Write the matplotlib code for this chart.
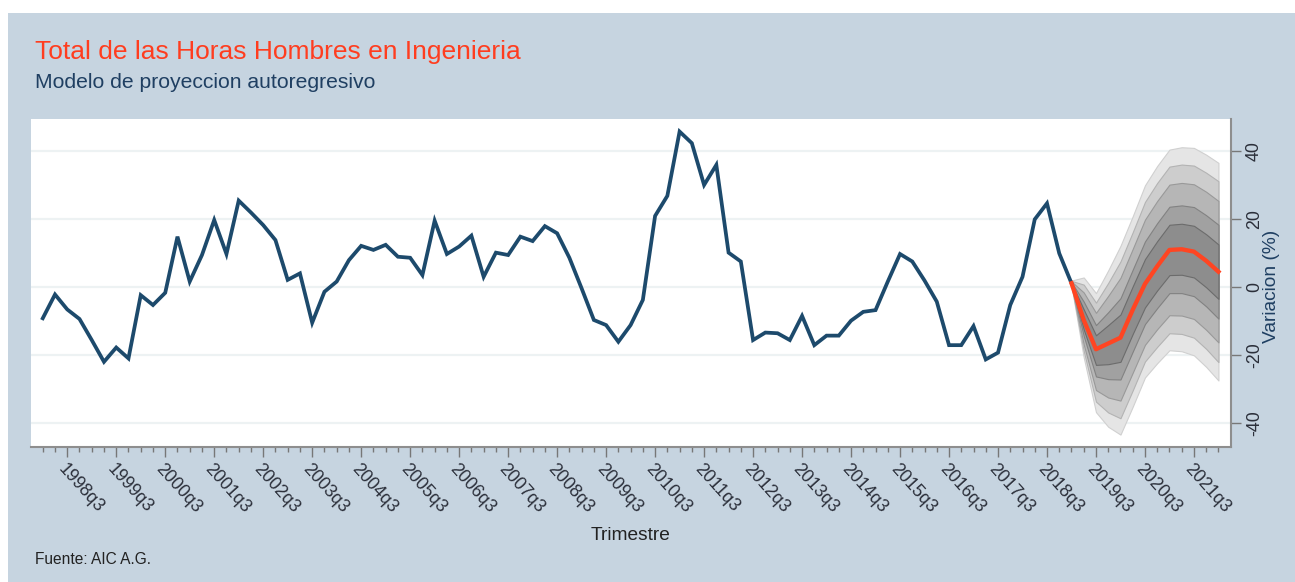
import matplotlib.pyplot as plt
from matplotlib.patches import Rectangle

plt.rcParams['font.family'] = ['Liberation Sans', 'DejaVu Sans']
plt.rcParams['axes.unicode_minus'] = False

# trimestres desde 1998q1 (indice 0) hasta 2022q1 (indice 96)
tick_labels = [f"{y}q3" for y in range(1998, 2022)]

# variacion historica (%), 1998q1 .. 2019q1
historico = [-9.3, -2.3, -6.7, -9.5, -15.7, -22.1, -17.9, -21.1, -2.5, -5.4,
             -1.8, 14.7, 1.5, 9.3, 19.6, 9.6, 25.3, 21.8, 18.1, 13.7,
             2.0, 3.9, -10.6, -1.5, 1.5, 7.8, 12.0, 10.8, 12.3, 8.8,
             8.5, 3.4, 19.4, 9.6, 11.8, 15.0, 2.9, 10.0, 9.3, 14.7,
             13.4, 17.8, 15.7, 8.5, -0.5, -9.8, -11.3, -16.2, -11.3, -3.9,
             20.8, 26.7, 45.6, 42.2, 29.9, 35.8, 10.0, 7.4, -15.7, -13.5,
             -13.7, -15.7, -8.6, -17.2, -14.4, -14.4, -10.0, -7.4, -6.9, 1.5,
             9.6, 7.4, 1.8, -4.4, -17.2, -17.2, -11.6, -21.4, -19.4, -5.4,
             2.9, 19.8, 24.5, 9.8, 1.0]

# proyeccion, 2019q1 .. 2022q1
pronostico = [1.0, -9.8, -18.4, -16.7, -15.0, -6.8, 0.8, 6.0, 10.8, 11.0, 10.3, 7.6, 4.4]

# bandas del abanico (de la interior a la exterior)
sup1 = [1.2, -6.7, -14.3, -11.3, -8.2, 0.1, 8.1, 13.4, 18.2, 18.5, 17.9, 15.4, 12.4]
sup2 = [1.3, -4.4, -11.3, -7.5, -3.4, 5.0, 13.3, 18.7, 23.5, 23.9, 23.4, 21.0, 18.2]
sup3 = [1.5, -1.7, -7.7, -2.7, 2.6, 11.1, 19.7, 25.2, 30.0, 30.5, 30.1, 27.9, 25.2]
sup4 = [1.7, 0.6, -4.7, 1.1, 7.4, 16.0, 24.9, 30.5, 35.3, 35.9, 35.6, 33.5, 31.0]
sup5 = [1.8, 2.7, -1.9, 4.8, 12.0, 20.7, 29.8, 35.5, 40.3, 41.0, 40.8, 38.8, 36.4]
inf1 = [0.8, -12.6, -23.0, -22.8, -22.1, -13.9, -6.1, -1.1, 3.4, 3.5, 2.7, -0.2, -3.6]
inf2 = [0.7, -14.5, -26.4, -27.2, -27.3, -19.1, -11.0, -6.3, -1.9, -1.9, -2.8, -5.8, -9.4]
inf3 = [0.5, -17.0, -30.4, -32.6, -33.5, -25.3, -17.1, -12.5, -8.4, -8.5, -9.5, -12.7, -16.4]
inf4 = [0.3, -18.9, -33.8, -37.0, -38.7, -30.5, -22.0, -17.7, -13.7, -13.9, -15.0, -18.3, -22.2]
inf5 = [0.2, -20.8, -36.9, -41.2, -43.5, -35.3, -26.7, -22.5, -18.7, -19.0, -20.2, -23.6, -27.6]

x_hist = list(range(len(historico)))
x_pron = list(range(len(historico) - 1, len(historico) - 1 + len(pronostico)))

fig = plt.figure(figsize=(12.95, 5.82), dpi=100)
fig.patch.set_facecolor('white')
fig.patches.append(Rectangle((8 / 1295, 0), 1, 1 - 13 / 582, transform=fig.transFigure,
                             facecolor='#c6d4e0', edgecolor='none', zorder=-10))

ax = fig.add_axes([31 / 1295, 1 - 446.7 / 582, (1230.7 - 31) / 1295, (446.7 - 119) / 582])
ax.set_facecolor('white')

ax.set_xlim(-0.96, 97.0)
ax.set_ylim(-47.06, 49.3)

for s in ['top', 'left']:
    ax.spines[s].set_visible(False)
for s in ['right', 'bottom']:
    ax.spines[s].set_color('#8e8e8e')
    ax.spines[s].set_linewidth(1.5)

ax.set_yticks([-40, -20, 0, 20, 40])
ax.grid(axis='y', color='#edf2f3', linewidth=1.6)
ax.set_axisbelow(True)

ax.yaxis.tick_right()
ax.tick_params(axis='y', length=7, width=1, color='#777777', labelsize=12.8,
               labelcolor='#2b2f3a', labelrotation=90, pad=4)
for lab in ax.get_yticklabels():
    lab.set_va('center')

ax.set_xticks(list(range(2, 95, 4)))
ax.set_xticks(list(range(0, 97)), minor=True)
ax.set_xticklabels(tick_labels, rotation=-48, ha='left', va='top', rotation_mode='anchor')
ax.tick_params(axis='x', which='major', length=7, width=1, color='#777777',
               labelsize=12.8, labelcolor='#2b2f3a', pad=3)
ax.tick_params(axis='x', which='minor', length=3.5, width=1, color='#777777')

# abanico
colores = ['#e5e5e5', '#cdcdcd', '#b6b6b6', '#a1a1a1', '#8d8d8d']
bordes = ['#d0d0d0', '#b3b3b3', '#999999', '#828282', '#6c6c6c']
sups = [sup5, sup4, sup3, sup2, sup1]
infs = [inf5, inf4, inf3, inf2, inf1]
for k in range(5):
    ax.fill_between(x_pron, infs[k], sups[k], facecolor=colores[k],
                    edgecolor=bordes[k], linewidth=0.8, zorder=2)

ax.plot(x_hist, historico, color='#1d4a6c', linewidth=2.7, zorder=3,
        solid_joinstyle='miter')
ax.plot(x_pron, pronostico, color='#ff4522', linewidth=3.1, zorder=4,
        solid_joinstyle='round')

fig.text(35 / 1295, 1 - 59 / 582, 'Total de las Horas Hombres en Ingenieria',
         color='#ff3d1f', fontsize=19, va='baseline', ha='left')
fig.text(35 / 1295, 1 - 88 / 582, 'Modelo de proyeccion autoregresivo',
         color='#1f3f62', fontsize=15.2, va='baseline', ha='left')
fig.text(631 / 1295, 1 - 540 / 582, 'Trimestre', color='#222222', fontsize=13.8,
         va='baseline', ha='center')
fig.text(35 / 1295, 1 - 564 / 582, 'Fuente: AIC A.G.', color='#222222', fontsize=11.2,
         va='baseline', ha='left')
fig.text(1272 / 1295, 1 - 286 / 582, 'Variacion (%)', color='#1f3f62', fontsize=13.8,
         rotation=90, va='center', ha='center')

fig.savefig('out.png', dpi=100)
